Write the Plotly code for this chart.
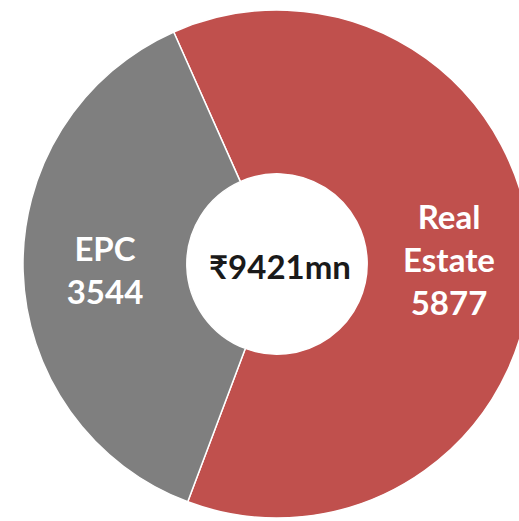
import plotly.graph_objects as go

# segment data
labels = ["Real Estate", "EPC"]
values = [5877, 3544]
colors = ["#C0504D", "#7F7F7F"]
center_text = "₹9421mn"

display = [lab.replace(" ", "<br>") for lab in labels]

fig = go.Figure(
    go.Pie(
        labels=labels,
        values=values,
        customdata=display,
        hole=0.355,
        sort=False,
        direction="clockwise",
        rotation=-24,
        marker=dict(colors=colors, line=dict(color="white", width=1.5)),
        texttemplate="<b>%{customdata}<br>%{value}</b>",
        textposition="inside",
        insidetextorientation="horizontal",
        textfont=dict(family="Lato", size=33, color="white"),
        domain=dict(x=[23 / 540, 531 / 540], y=[3 / 521, 511 / 521]),
        showlegend=False,
    )
)

fig.add_annotation(
    text="<b>" + center_text + "</b>",
    x=280 / 540, y=1 - 266 / 521,
    xref="paper", yref="paper",
    showarrow=False,
    font=dict(family="Lato", size=33, color="#1a1a1a"),
)

fig.update_layout(
    width=540,
    height=521,
    margin=dict(l=0, r=0, t=0, b=0),
    paper_bgcolor="white",
    plot_bgcolor="white",
)

fig.write_html(
    "out.html",
    config={"displayModeBar": False},
    post_script="document.body.style.margin='0';document.body.style.overflow='hidden';",
)
